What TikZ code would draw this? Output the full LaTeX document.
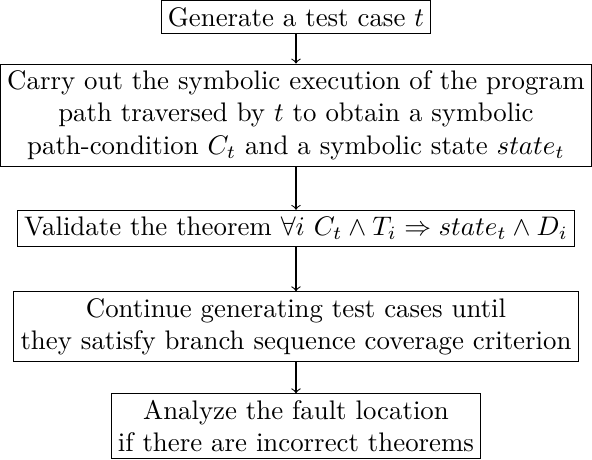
\documentclass[tikz,border=0pt]{standalone}
\usepackage{amsmath,amssymb}
\usepackage{tikz}
\usetikzlibrary{positioning}

\tikzset{
  stepbox/.style={draw, align=center, inner sep=2.5pt},
  flow/.style={->}
}

\begin{document}
\begin{tikzpicture}[node distance=11pt]
  % ---------------- boxes ----------------
  \node[stepbox] (gen) {Generate a test case $t$};
  \node[stepbox, below=of gen] (symb)
    {Carry out the symbolic execution of the program\\
     path traversed by $t$ to obtain a symbolic\\
     path-condition $C_t$ and a symbolic state $state_t$};
  \node[stepbox, below=16pt of symb] (valid)
    {Validate the theorem $\forall i\ C_t \wedge T_i \Rightarrow state_t \wedge D_i$};
  \node[stepbox, below=16.5pt of valid] (cont)
    {Continue generating test cases until\\
     they satisfy branch sequence coverage criterion};
  \node[stepbox, below=11.5pt of cont] (fault)
    {Analyze the fault location\\
     if there are incorrect theorems};

  % ---------------- arrows ----------------
  \draw[flow] (gen) -- (symb);
  \draw[flow] (symb) -- (valid);
  \draw[flow] (valid) -- (cont);
  \draw[flow] (cont) -- (fault);
\end{tikzpicture}
\end{document}
